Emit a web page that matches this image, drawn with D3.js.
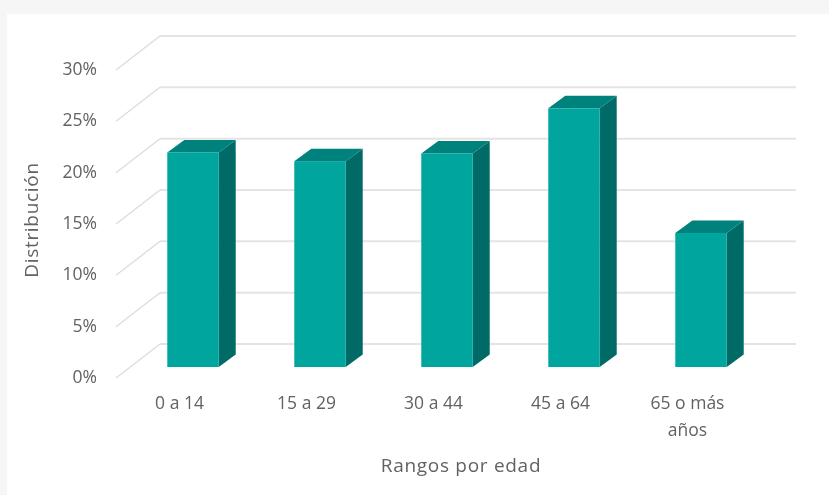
<!DOCTYPE html>
<html>
<head>
<meta charset="utf-8">
<script src="https://cdn.jsdelivr.net/npm/d3@7"></script>
<style>
  html, body { margin: 0; padding: 0; background: #f6f6f6; }
  svg { display: block; filter: blur(0.45px); }
  text { font-family: "Open Sans", "Noto Sans", sans-serif; fill: #626262; }
</style>
</head>
<body>
<div id="chart"></div>
<script>
var categories = ["0 a 14", "15 a 29", "30 a 44", "45 a 64", "65 o más años"];
var values = [20.9, 20.05, 20.8, 25.2, 13.05];
var yTicks = [0, 5, 10, 15, 20, 25, 30];

var width = 829, height = 495;
// offset of the back wall and of the bar depth, oblique view
var wallDx = 44, wallDy = -34;
var barDx = 17, barDy = -12.5;
var barShiftY = -11;  // bars stand a bit behind the front edge of the floor

var svg = d3.select("#chart").append("svg")
  .attr("width", width)
  .attr("height", height);

svg.append("rect")
  .attr("x", 7).attr("y", 14)
  .attr("width", width - 7).attr("height", height - 14)
  .attr("fill", "#fff");

var x = d3.scaleBand().domain(categories).range([129.5, 764.5])
  .paddingInner(0.595).paddingOuter(0.2975);
var y = d3.scaleLinear().domain([0, 30]).range([378, 70]);

// walls
var grid = svg.append("g");
grid.selectAll(".back").data(yTicks).enter().append("line")
  .attr("class", "back")
  .attr("x1", 116 + wallDx).attr("x2", 796)
  .attr("y1", function(d) { return y(d) + wallDy; })
  .attr("y2", function(d) { return y(d) + wallDy; })
  .attr("stroke", "#e4e4e4").attr("stroke-width", 2);
grid.selectAll(".side").data(yTicks).enter().append("line")
  .attr("class", "side")
  .attr("x1", 116).attr("x2", 116 + wallDx)
  .attr("y1", function(d) { return y(d); })
  .attr("y2", function(d) { return y(d) + wallDy; })
  .attr("stroke", "#dcdcdc").attr("stroke-width", 1.3);

// bars
var bars = svg.selectAll(".bar").data(values).enter().append("g")
  .attr("class", "bar")
  .attr("transform", function(d, i) {
    return "translate(" + x(categories[i]) + "," + barShiftY + ")";
  });

var bw = x.bandwidth();

bars.append("path") // side
  .attr("fill", "#006a66")
  .attr("d", function(d) {
    return "M" + bw + "," + y(d) + "l" + barDx + "," + barDy +
      "V" + (y(0) + barDy) + "l" + (-barDx) + "," + (-barDy) + "Z";
  });
bars.append("path") // top
  .attr("fill", "#00827c")
  .attr("d", function(d) {
    return "M0," + y(d) + "l" + barDx + "," + barDy + "h" + bw +
      "l" + (-barDx) + "," + (-barDy) + "Z";
  });
bars.append("rect") // front
  .attr("fill", "#00a59e")
  .attr("x", 0)
  .attr("width", bw)
  .attr("y", function(d) { return y(d); })
  .attr("height", function(d) { return y(0) - y(d); });

// axes
var yAxis = svg.append("g")
  .attr("transform", "translate(116,-1)")
  .call(d3.axisLeft(y).tickValues(yTicks).tickSize(0).tickPadding(19)
    .tickFormat(function(d) { return d + "%"; }));
yAxis.select(".domain").remove();
yAxis.selectAll("text").style("font-size", "17.5px")
  .style("font-family", null).attr("font-family", null);

var labelX = d3.scaleBand().domain(categories).range([116, 751]);
var xLabels = svg.append("g").selectAll("text").data(categories).enter().append("text")
  .attr("text-anchor", "middle")
  .attr("x", function(d) { return labelX(d) + labelX.bandwidth() / 2; })
  .attr("y", 409)
  .style("font-size", "17.5px");
xLabels.each(function(d) {
  // the long label wraps after the third word
  var words = d.split(" ");
  var lines = words.length > 3 ? [words.slice(0, 3).join(" "), words.slice(3).join(" ")] : [d];
  var t = d3.select(this);
  lines.forEach(function(l, i) {
    t.append("tspan")
      .attr("x", t.attr("x"))
      .attr("dy", i ? 27 : 0)
      .text(l);
  });
});

svg.append("text")
  .attr("transform", "translate(38,220) rotate(-90)")
  .attr("text-anchor", "middle")
  .style("font-size", "19px")
  .style("letter-spacing", "0.7px")
  .text("Distribución");

svg.append("text")
  .attr("x", 461).attr("y", 472)
  .attr("text-anchor", "middle")
  .style("font-size", "19px")
  .style("letter-spacing", "0.7px")
  .text("Rangos por edad");
</script>
</body>
</html>
